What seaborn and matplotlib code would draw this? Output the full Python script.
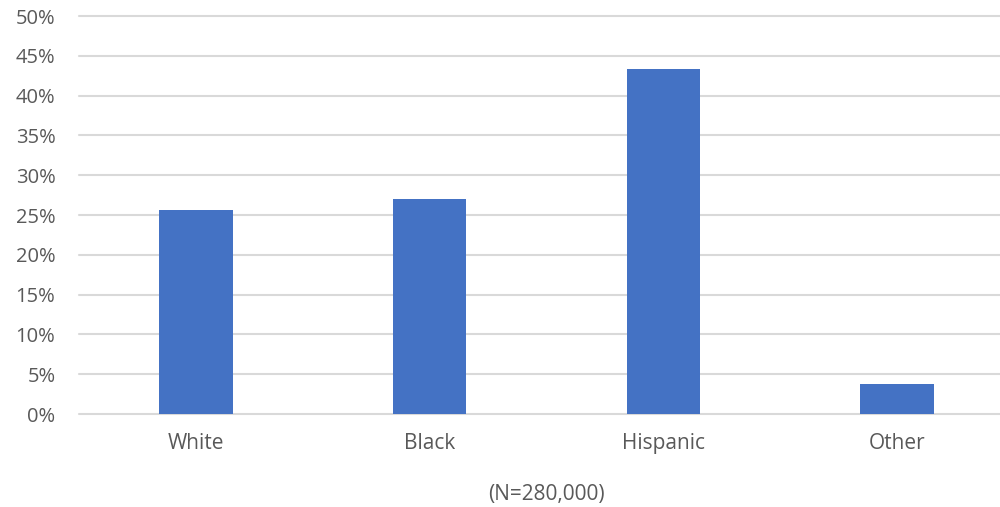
import matplotlib
matplotlib.use("Agg")
import matplotlib.pyplot as plt
from matplotlib.ticker import PercentFormatter, MultipleLocator
import seaborn as sns
import pandas as pd

# Share of cases by race/ethnicity
categories = ["White", "Black", "Hispanic", "Other"]
shares = [25.6, 27.0, 43.3, 3.8]
sample_note = "(N=280,000)"

df = pd.DataFrame({"group": categories, "share": shares})

sns.set_theme(style="white")
plt.rcParams["font.family"] = ["Open Sans", "DejaVu Sans"]

text_color = "#595959"
grid_color = "#d9d9d9"
bar_color = "#4472C4"

fig = plt.figure(figsize=(10, 5.07), dpi=100)
ax = fig.add_axes([0.079, 0.1834, 0.935, 0.785])

sns.barplot(data=df, x="group", y="share", color=bar_color, width=0.315,
            saturation=1, linewidth=0, ax=ax, zorder=3)

ax.set_ylim(0, 50)
ax.set_xlim(-0.5, len(categories) - 0.5)
ax.yaxis.set_major_locator(MultipleLocator(5))
ax.yaxis.set_major_formatter(PercentFormatter(decimals=0))
ax.grid(axis="y", color=grid_color, linewidth=1.5, zorder=0)
ax.set_axisbelow(True)
for line in ax.get_ygridlines():
    line.set_clip_on(False)

for side in ["top", "right", "left", "bottom"]:
    ax.spines[side].set_visible(False)

ax.tick_params(axis="y", length=0, pad=17, labelsize=14.5, labelcolor=text_color)
ax.tick_params(axis="x", length=0, pad=14, labelsize=15, labelcolor=text_color)
ax.set_ylabel("")
ax.set_xlabel(sample_note, fontsize=15, color=text_color, labelpad=21)

fig.savefig("out.png", dpi=100)
